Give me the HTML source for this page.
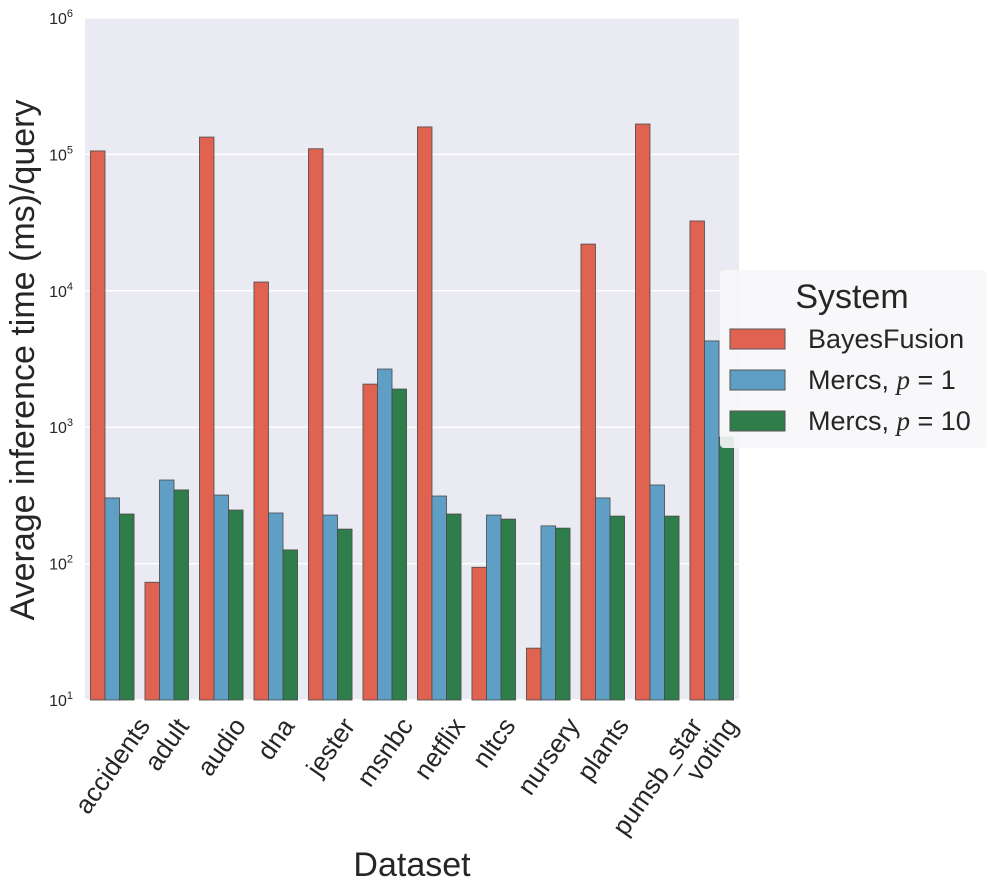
<!DOCTYPE html>
<html><head><meta charset="utf-8"><style>
body{margin:0;background:#fff;}
svg{display:block;font-family:"Liberation Sans",sans-serif;}
</style></head><body>
<svg id="chart" width="996" height="892">
<rect x="85" y="18" width="654" height="682" fill="#eaeaf2"/>
<g id="grid"></g><g id="bars"></g><g id="xt"></g><g id="yt"></g>
<text x="412" y="876" font-size="34" text-anchor="middle" fill="#262626">Dataset</text>
<text transform="translate(34,360) rotate(-90)" font-size="34" text-anchor="middle" fill="#262626">Average inference time (ms)/query</text>
<g>
<rect x="720" y="270" width="267" height="178" rx="4" fill="#f7f7f9" fill-opacity="0.9"/>
<text x="852" y="308" font-size="34" text-anchor="middle" fill="#262626">System</text>
<g><rect x="730" y="329" width="55" height="20" fill="#e06352" stroke="#555"/><text x="808" y="348" font-size="27" fill="#262626">BayesFusion</text></g>
<g><rect x="730" y="370" width="55" height="20" fill="#5f9ec5" stroke="#555"/><text x="808" y="389" font-size="27" fill="#262626">Mercs, <tspan font-family="Liberation Serif" font-style="italic">p</tspan> = 1</text></g>
<g><rect x="730" y="411" width="55" height="20" fill="#2e7d4b" stroke="#555"/><text x="808" y="430" font-size="27" fill="#262626">Mercs, <tspan font-family="Liberation Serif" font-style="italic">p</tspan> = 10</text></g>
</g>
</svg>
<script>
const categories=["accidents","adult","audio","dna","jester","msnbc","netflix","nltcs","nursery","plants","pumsb_star","voting"];
const bayesFusion=[106000,73,134000,11600,110000,2070,159000,94,24,22000,167000,32500];
const mercsP1=[303,410,318,235,227,2670,313,227,189,303,377,4290];
const mercsP10=[231,347,247,126,179,1905,231,212,182,223,223,847];
const yTickExps=[1,2,3,4,5,6];
const NS="http://www.w3.org/2000/svg";
const X0=85,X1=739,Y0=700,Y1=18,logMin=1,logMax=6;
function y(v){return Y0-(Math.log10(v)-logMin)/(logMax-logMin)*(Y0-Y1);}
const gw=(X1-X0)/categories.length;
function x(i){return X0+i*gw;}
function mk(t,a,p){const e=document.createElementNS(NS,t);for(const k in a)e.setAttribute(k,a[k]);p.appendChild(e);return e;}
const grid=document.getElementById('grid'),bars=document.getElementById('bars'),xt=document.getElementById('xt'),yt=document.getElementById('yt');
yTickExps.forEach(e=>{
 const yy=y(Math.pow(10,e));
 const l=mk('line',{x1:X0,x2:X1,y1:yy,y2:yy,stroke:'#fff','stroke-width':1.5},grid);
 
 
 const t=mk('text',{x:73,y:yy+6,'font-size':16,'text-anchor':'end',fill:'#262626'},yt);
 
 
 t.textContent='10';
 const s=mk('tspan',{dy:-7,'font-size':11},t);s.textContent=e;
});
const series=[[bayesFusion,'#e06352','bar-bayesfusion'],[mercsP1,'#5f9ec5','bar-mercs-p1'],[mercsP10,'#2e7d4b','bar-mercs-p10']];
const bw=gw*0.8/3;
categories.forEach((c,i)=>{
 series.forEach((s,j)=>{
  const bx=x(i)+gw*0.1+j*bw,top=y(s[0][i]);
  const r=mk('rect',{x:bx,y:top,width:bw,height:Y0-top,fill:s[1],stroke:'#4a4a4a','stroke-width':0.8},bars);
  
  
 });
 const cx=x(i)+gw/2;
 const outer=mk('g',{},xt);
 const inner=mk('g',{},outer);
 const t=mk('text',{x:0,y:0,'font-size':26,'text-anchor':'middle',fill:'#262626',transform:'rotate(-55)'},inner);
 
 
 t.textContent=c;
 const b=inner.getBBox();
 outer.setAttribute('transform',`translate(${cx-(b.x+b.width/2)},${712-b.y})`);
});
</script>
</body></html>
